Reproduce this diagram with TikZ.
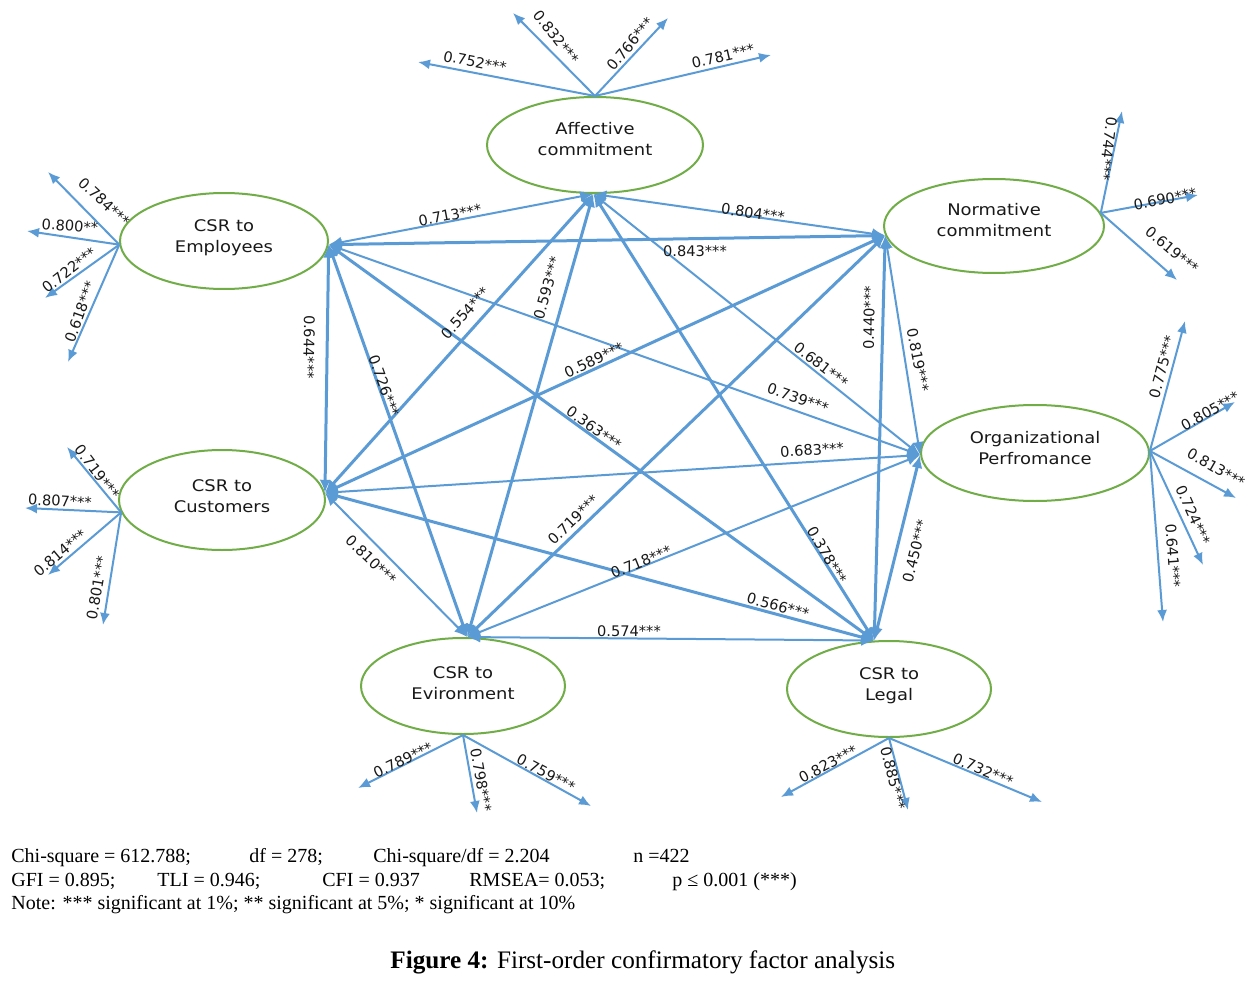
\documentclass[tikz,border=0pt]{standalone}
\usepackage{fontspec}
\setmainfont{Liberation Serif}
\newfontfamily\nodefont{DejaVu Sans}[FakeStretch=1.12]
\newfontfamily\labfont{DejaVu Sans}
\usetikzlibrary{arrows.meta,shapes.geometric}
\definecolor{lblue}{HTML}{5B9BD5}
\definecolor{lgreen}{HTML}{70AD47}
\begin{document}
\begin{tikzpicture}[x=0.5pt,y=-0.5pt,
 lat/.style={ellipse, draw=lgreen, line width=1pt, inner sep=0pt},
 lattxt/.style={inner sep=0pt, align=center,
   font=\nodefont\fontsize{8}{10.5}\selectfont, text=black!90},
 cov/.style={draw=lblue, line width=1pt, {Latex[length=6.5pt,width=5.5pt]}-{Latex[length=6.5pt,width=5.5pt]}},
 covt/.style={cov, line width=1.5pt},
 ind/.style={draw=lblue, line width=1pt, -{Latex[length=6pt,width=5pt]}},
 lbl/.style={font=\labfont\fontsize{7.3}{8}\selectfont, inner sep=0pt, text=black!90},
 txt/.style={anchor=base west, inner sep=0pt, font=\fontsize{10}{12}\selectfont}]
\fill[white] (0,0) rectangle (1257,984);
\useasboundingbox (0,0) rectangle (1257,984);

% latent variables
\node[lat, minimum width=108pt, minimum height=48pt] (aff) at (595,145) {};
\node[lat, minimum width=104pt, minimum height=48pt] (emp) at (224,241) {};
\node[lat, minimum width=110pt, minimum height=47pt] (norm) at (994,226) {};
\node[lat, minimum width=103pt, minimum height=50pt] (cust) at (222,500) {};
\node[lat, minimum width=114pt, minimum height=48pt] (org) at (1035,453) {};
\node[lat, minimum width=102pt, minimum height=48pt] (env) at (463,686) {};
\node[lat, minimum width=102pt, minimum height=48pt] (leg) at (889,689) {};
\node[lattxt] (afft)  at (595,139) {Affective\\commitment};
\node[lattxt] (empt)  at (224,238) {CSR to\\Employees};
\node[lattxt] (normt) at (994,220) {Normative\\commitment};
\node[lattxt] (custt) at (222,496) {CSR to\\Customers};
\node[lattxt] (orgt)  at (1035,448) {Organizational\\Perfromance};
\node[lattxt] (envt)  at (463,683) {CSR to\\Evironment};
\node[lattxt] (legt)  at (889,686) {CSR to\\Legal};

% indicator end points
\coordinate (a1) at (418,62);  \coordinate (a2) at (513,13);
\coordinate (a3) at (668,18);  \coordinate (a4) at (771,55);
\coordinate (e1) at (48,172);  \coordinate (e2) at (27,231);
\coordinate (e3) at (45,298);  \coordinate (e4) at (68,362);
\coordinate (c1) at (67,447);  \coordinate (c2) at (25,508);
\coordinate (c3) at (48,575);  \coordinate (c4) at (103,625);
\coordinate (n1) at (1122,111); \coordinate (n2) at (1198,195);
\coordinate (n3) at (1177,280);
\coordinate (o1) at (1185,321); \coordinate (o2) at (1235,402);
\coordinate (o3) at (1236,498); \coordinate (o4) at (1203,565);
\coordinate (o5) at (1163,622);
\coordinate (v1) at (358,788); \coordinate (v2) at (477,813);
\coordinate (v3) at (591,806);
\coordinate (l1) at (781,797); \coordinate (l2) at (908,810);
\coordinate (l3) at (1042,802);

% indicator arrows
\foreach \e in {a1,a2,a3,a4} \draw[ind] (aff.north) -- (\e);
\foreach \e in {e1,e2,e3,e4} \draw[ind] (emp.182) -- (\e);
\foreach \e in {c1,c2,c3,c4} \draw[ind] (cust.187) -- (\e);
\foreach \e in {n1,n2,n3} \draw[ind] (norm.7) -- (\e);
\foreach \e in {o1,o2,o3,o4,o5} \draw[ind] (org.1) -- (\e);
\foreach \e in {v1,v2,v3} \draw[ind] (env.south) -- (\e);
\foreach \e in {l1,l2,l3} \draw[ind] (leg.south) -- (\e);

% covariances
\draw[cov]  (emp.358) -- (aff.268);
\draw[cov]  (aff.268) -- (norm.185);
\draw[covt] (emp.358) -- (norm.185);
\draw[covt] (emp.358) -- (cust.4);
\draw[covt] (emp.358) -- (env.85);
\draw[cov]  (emp.358) -- (org.181);
\draw[covt] (emp.358) -- (leg.107);
\draw[covt] (aff.268) -- (cust.4);
\draw[covt] (aff.268) -- (env.85);
\draw[cov]  (aff.268) -- (org.181);
\draw[covt] (aff.268) -- (leg.107);
\draw[covt] (norm.185) -- (cust.4);
\draw[covt] (norm.185) -- (env.85);
\draw[cov]  (norm.185) -- (org.181);
\draw[covt] (norm.185) -- (leg.107);
\draw[cov]  (cust.4) -- (org.181);
\draw[cov]  (cust.4) -- (env.85);
\draw[covt] (cust.4) -- (leg.107);
\draw[cov]  (org.181) -- (env.85);
\draw[covt] (org.181) -- (leg.107);
\draw[cov]  (env.85) -- (leg.107);

% indicator labels
\node[lbl, rotate=-11] (ta1) at (475,62) {0.752***};
\node[lbl, rotate=-52] (ta2) at (556,37) {0.832***};
\node[lbl, rotate=50]  (ta3) at (630,44) {0.766***};
\node[lbl, rotate=13]  (ta4) at (723,56) {0.781***};
\node[lbl, rotate=-43] (te1) at (104,202) {0.784***};
\node[lbl, rotate=-4]  (te2) at (70,226) {0.800**};
\node[lbl, rotate=38]  (te3) at (69,270) {0.722***};
\node[lbl, rotate=70]  (te4) at (80,312) {0.618***};
\node[lbl, rotate=-53] (tc1) at (97,472) {0.719***};
\node[lbl, rotate=-3]  (tc2) at (60,501) {0.807***};
\node[lbl, rotate=40]  (tc3) at (60,553) {0.814***};
\node[lbl, rotate=80]  (tc4) at (97,588) {0.801***};
\node[lbl, rotate=-97] (tn1) at (1108,149) {0.744***};
\node[lbl, rotate=11]  (tn2) at (1165,199) {0.690***};
\node[lbl, rotate=-40] (tn3) at (1172,250) {0.619***};
\node[lbl, rotate=75]  (to1) at (1162,367) {0.775***};
\node[lbl, rotate=29]  (to2) at (1210,411) {0.805***};
\node[lbl, rotate=-30] (to3) at (1216,468) {0.813***};
\node[lbl, rotate=-66] (to4) at (1193,515) {0.724***};
\node[lbl, rotate=-86] (to5) at (1173,556) {0.641***};
\node[lbl, rotate=26]  (tv1) at (403,760) {0.789***};
\node[lbl, rotate=-80] (tv2) at (481,780) {0.798***};
\node[lbl, rotate=-28] (tv3) at (546,773) {0.759***};
\node[lbl, rotate=28]  (tl1) at (828,764) {0.823***};
\node[lbl, rotate=-76] (tl2) at (893,778) {0.885***};
\node[lbl, rotate=-23] (tl3) at (983,770) {0.732***};

% covariance labels
\node[lbl, rotate=10.5] (k1) at (450,215) {0.713***};
\node[lbl, rotate=-8]   (k2) at (753,213) {0.804***};
\node[lbl]              (k3) at (695,251) {0.843***};
\node[lbl, rotate=-91]  (k4) at (309,347) {0.644***};
\node[lbl, rotate=-70]  (k5) at (384,386) {0.726***};
\node[lbl, rotate=-19]  (k6) at (798,398) {0.739***};
\node[lbl, rotate=-36]  (k7) at (594,428) {0.363***};
\node[lbl, rotate=48]   (k8) at (465,313) {0.554***};
\node[lbl, rotate=74]   (k9) at (547,288) {0.593***};
\node[lbl, rotate=-38]  (k10) at (821,365) {0.681***};
\node[lbl, rotate=-60]  (k11) at (827,555) {0.378***};
\node[lbl, rotate=25]   (k12) at (594,360) {0.589***};
\node[lbl, rotate=44]   (k13) at (573,520) {0.719***};
\node[lbl, rotate=-79]  (k14) at (918,360) {0.819***};
\node[lbl, rotate=89]   (k15) at (869,318) {0.440***};
\node[lbl, rotate=4]    (k16) at (812,450) {0.683***};
\node[lbl, rotate=-44]  (k17) at (371,560) {0.810***};
\node[lbl, rotate=-15]  (k18) at (778,606) {0.566***};
\node[lbl, rotate=22]   (k19) at (641,562) {0.718***};
\node[lbl, rotate=76]   (k20) at (915,551) {0.450***};
\node[lbl]              (k21) at (629,631) {0.574***};

% fit statistics
\node[txt] (s1) at (11,862) {Chi-square = 612.788;};
\node[txt] (s2) at (249,862) {df = 278;};
\node[txt] (s3) at (373,862) {Chi-square/df = 2.204};
\node[txt] (s4) at (633,862) {n =422};
\node[txt] (s5) at (11,886) {GFI = 0.895;};
\node[txt] (s6) at (157,886) {TLI = 0.946;};
\node[txt] (s7) at (322,886) {CFI = 0.937};
\node[txt] (s8) at (469,886) {RMSEA= 0.053;};
\node[txt] (s9) at (672,886) {p ≤ 0.001 (***)};
\node[txt] (s10) at (11,909) {Note: *** significant at 1\%; ** significant at 5\%; * significant at 10\%};
\node[txt, font=\fontsize{12.6}{14}\selectfont] (cap) at (390,968) {\textbf{Figure 4:} First-order confirmatory factor analysis};
\end{tikzpicture}
\end{document}
